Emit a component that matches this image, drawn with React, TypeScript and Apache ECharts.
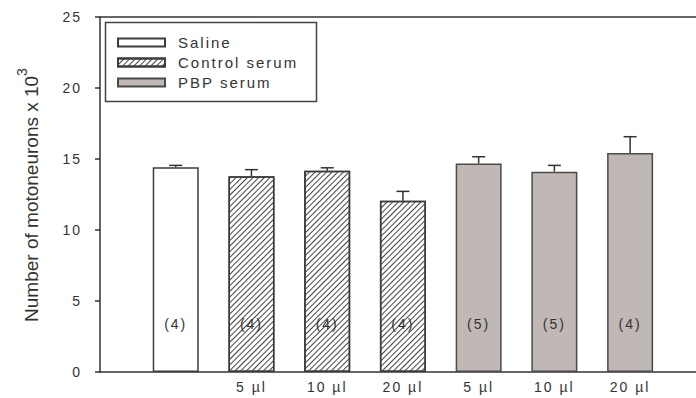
import React, { useEffect, useRef } from "react";
import * as echarts from "echarts";

// Groups shown in the legend
const groupNames = ["Saline", "Control serum", "PBP serum"];
// One entry per bar, left to right
const doseLabels = ["", "5 µl", "10 µl", "20 µl", "5 µl", "10 µl", "20 µl"];
const groupOfBar = [0, 1, 1, 1, 2, 2, 2];
const meanValues = [14.42, 13.78, 14.18, 12.06, 14.69, 14.11, 15.42];
const semValues = [0.13, 0.47, 0.2, 0.66, 0.47, 0.44, 1.15];
const animalCounts = [4, 4, 4, 4, 5, 5, 4];
const yTicks = { min: 0, max: 25, step: 5 };

const INK = "#333333";
const BORDER = "#3c3c3c";
const PBP_FILL = "#c0b8b5";

const hatch = {
  symbol: "rect",
  symbolSize: 1,
  dashArrayX: [1, 0],
  dashArrayY: [1, 2.2],
  rotation: -Math.PI / 4,
  color: "#444444",
  backgroundColor: "#ffffff",
};

const groupStyles = [
  { color: "#ffffff", borderColor: BORDER, borderWidth: 1.5 },
  { color: "#ffffff", borderColor: BORDER, borderWidth: 1.5, decal: hatch },
  { color: PBP_FILL, borderColor: "#4a4a4a", borderWidth: 1.5 },
];

export default function App() {
  const ref = useRef<HTMLDivElement>(null);

  useEffect(() => {
    if (!ref.current) return;
    const chart = echarts.init(ref.current, null, { renderer: "svg" });

    const barSeries = groupNames.map((name, g) => ({
      type: "bar",
      name,
      xAxisIndex: 0,
      yAxisIndex: 0,
      barWidth: 46,
      barGap: "-100%",
      itemStyle: groupStyles[g],
      label: {
        show: true,
        position: "insideBottom",
        distance: 41,
        color: INK,
        fontSize: 14,
        lineHeight: 14,
        fontFamily: "Liberation Sans",
        formatter: (p: any) => `(${p.data[2]})`,
      },
      data: meanValues
        .map((v, i) => [i + 1, v, animalCounts[i], g])
        .filter((_, i) => groupOfBar[i] === g),
    }));

    const errorSeries = {
      type: "custom",
      name: "sem",
      xAxisIndex: 0,
      yAxisIndex: 0,
      z: 5,
      data: meanValues.map((v, i) => [i + 1, v, semValues[i]]),
      renderItem: (_params: any, api: any) => {
        const x = api.value(0);
        const m = api.value(1);
        const e = api.value(2);
        const base = api.coord([x, m]);
        const top = api.coord([x, m + e]);
        const half = 6.5;
        return {
          type: "group",
          children: [
            {
              type: "line",
              shape: { x1: base[0], y1: base[1], x2: top[0], y2: top[1] },
              style: { stroke: INK, lineWidth: 1.5 },
            },
            {
              type: "line",
              shape: { x1: top[0] - half, y1: top[1], x2: top[0] + half, y2: top[1] },
              style: { stroke: INK, lineWidth: 1.5 },
            },
          ],
        };
      },
    };

    const xMax = 7.87;

    chart.setOption({
      animation: false,
      grid: { left: 100, right: 0, top: 17, bottom: 26, containLabel: false },
      legend: {
        data: groupNames,
        orient: "vertical",
        left: 117,
        top: 35,
        padding: 0,
        itemWidth: 47,
        itemHeight: 8,
        itemGap: 5,
        icon: "rect",
        selectedMode: false,
        textStyle: {
          color: INK,
          fontSize: 15,
          lineHeight: 15,
          fontFamily: "Liberation Sans",
          padding: [0, 0, 0, 8],
        },
      },
      graphic: [
        {
          type: "rect",
          z: 10,
          shape: { x: 105.5, y: 22.5, width: 211, height: 79 },
          style: { fill: "none", stroke: "#444444", lineWidth: 1.5 },
        },
      ],
      xAxis: [
        {
          type: "value",
          position: "bottom",
          min: 0,
          max: xMax,
          interval: 1,
          splitLine: { show: false },
          axisTick: { show: false },
          axisLine: { show: true, lineStyle: { color: INK, width: 1.5 } },
          axisLabel: {
            show: true,
            margin: 8,
            color: INK,
            fontSize: 14,
            fontFamily: "Liberation Sans",
            showMinLabel: true,
            showMaxLabel: false,
            formatter: (v: number) => {
              const i = Math.round(v) - 1;
              if (Math.abs(v - Math.round(v)) > 1e-6 || i < 0 || i >= doseLabels.length) return "";
              return doseLabels[i];
            },
          },
        },
        {
          type: "value",
          position: "top",
          min: 0,
          max: xMax,
          splitLine: { show: false },
          axisTick: { show: false },
          axisLabel: { show: false },
          axisLine: { show: true, lineStyle: { color: INK, width: 1.5 } },
        },
      ],
      yAxis: {
        type: "value",
        min: yTicks.min,
        max: yTicks.max,
        interval: yTicks.step,
        splitLine: { show: false },
        axisLine: { show: true, lineStyle: { color: INK, width: 1.5 } },
        axisTick: { show: true, inside: false, length: 5, lineStyle: { color: INK, width: 1.5 } },
        axisLabel: {
          margin: 18,
          color: INK,
          fontSize: 14,
          fontFamily: "Liberation Sans",
        },
        name: "{a|Number of motoneurons x 10}{b|3}",
        nameLocation: "middle",
        nameGap: 59,
        nameRotate: 90,
        nameTextStyle: {
          rich: {
            a: {
              fontSize: 19,
              color: INK,
              fontFamily: "Liberation Sans",
              verticalAlign: "bottom",
            },
            b: {
              fontSize: 14,
              color: INK,
              fontFamily: "Liberation Sans",
              verticalAlign: "top",
              padding: [0, 0, 12, 1],
            },
          },
        },
      },
      series: [...barSeries, errorSeries],
    });

    return () => chart.dispose();
  }, []);

  return (
    <>
      <style>{`
        .mn-chart svg text { letter-spacing: 2px; }
        .mn-chart svg text[style*="19px"] { letter-spacing: 0; }
      `}</style>
      <div
        ref={ref}
        className="mn-chart"
        style={{ position: "absolute", left: 0, top: 0, width: 696, height: 398, background: "#fff" }}
      />
    </>
  );
}
